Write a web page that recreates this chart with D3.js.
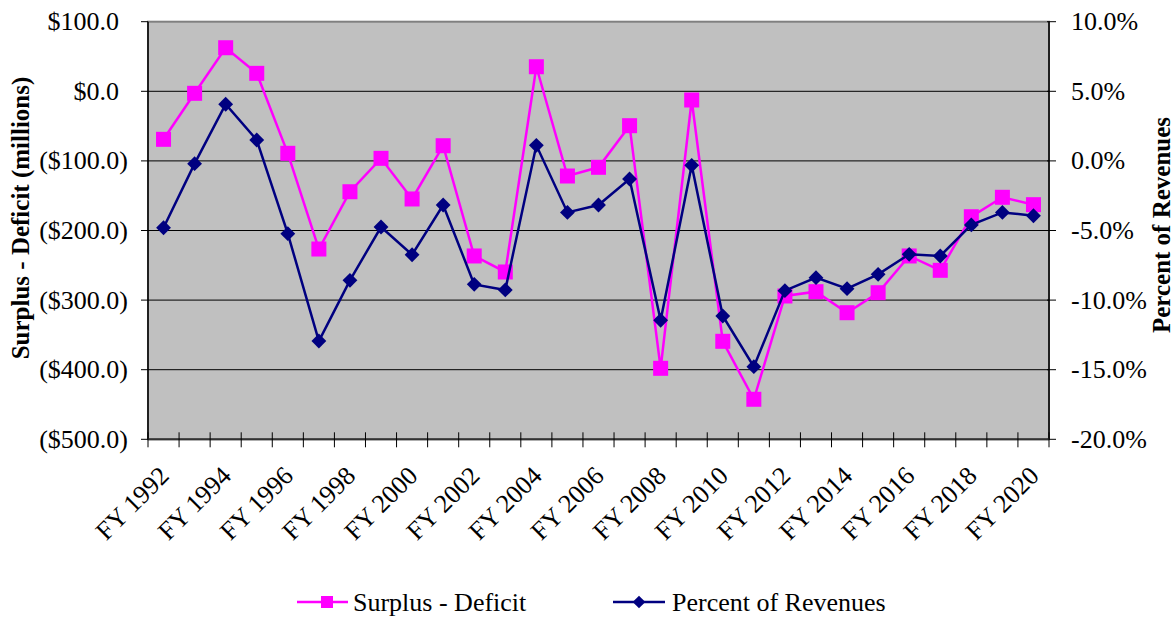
<!DOCTYPE html>
<html>
<head>
<meta charset="utf-8">
<script src="https://cdn.jsdelivr.net/npm/d3@7"></script>
<style>
  body { margin: 0; background: #fff; }
  svg, svg text { font-family: "Liberation Serif", "Times New Roman", "DejaVu Serif", serif; fill: #000; }
</style>
</head>
<body>
<script>
const years = d3.range(1992, 2021).map(y => "FY " + y);
const surplus = [-69.0, -2.9, 62.6, 25.8, -89.1, -226.6, -144.3, -96.3, -154.7, -78.2,
  -236.6, -259.6, 35.3, -121.7, -109.2, -49.4, -398.0, -12.5, -359.2, -442.5,
  -294.1, -287.9, -318.1, -289.4, -236.6, -257.2, -180.2, -152.3, -162.9];
const percent = [-4.8, -0.2, 4.07, 1.5, -5.23, -12.94, -8.58, -4.75, -6.74, -3.17,
  -8.87, -9.27, 1.12, -3.7, -3.17, -1.3, -11.45, -0.32, -11.14, -14.78,
  -9.32, -8.39, -9.18, -8.15, -6.71, -6.83, -4.6, -3.7, -3.94];
const leftTicks = [100, 0, -100, -200, -300, -400, -500];
const rightTicks = [10, 5, 0, -5, -10, -15, -20];

const W = 1175, H = 617;
const L = 148, R = 1049, T = 21.7, B = 439.3;
const serif = "'Liberation Serif', 'Times New Roman', 'DejaVu Serif', serif";

const svg = d3.select("body").append("svg")
  .attr("width", W).attr("height", H)
  .attr("font-family", serif);

const x = d3.scaleBand().domain(years).range([L, R]).padding(0);
const yL = d3.scaleLinear().domain([-500, 100]).range([B, T]);
const yR = d3.scaleLinear().domain([-20, 10]).range([B, T]);
const cx = d => x(d) + x.bandwidth() / 2;

// plot area
svg.append("rect")
  .attr("x", L).attr("y", T).attr("width", R - L).attr("height", B - T)
  .attr("fill", "#c0c0c0").attr("stroke", "#808080").attr("stroke-width", 2);

// gridlines
svg.append("g").selectAll("line")
  .data(leftTicks.slice(1, -1))
  .join("line")
  .attr("x1", L).attr("x2", R)
  .attr("y1", d => yL(d)).attr("y2", d => yL(d))
  .attr("stroke", "#000").attr("stroke-width", 1);

// left axis
const fmtL = d => d < 0 ? "($" + Math.abs(d).toFixed(1) + ")" : "$" + d.toFixed(1);
const gl = svg.append("g");
gl.append("line").attr("x1", L).attr("x2", L).attr("y1", T).attr("y2", B)
  .attr("stroke", "#000").attr("stroke-width", 1.5);
gl.selectAll("line.t").data(leftTicks).join("line").attr("class", "t")
  .attr("x1", L - 7).attr("x2", L).attr("y1", d => yL(d)).attr("y2", d => yL(d))
  .attr("stroke", "#000");
gl.selectAll("text").data(leftTicks).join("text")
  .attr("x", d => d < 0 ? 128 : 119)
  .attr("y", d => yL(d))
  .attr("dy", "0.33em")
  .attr("text-anchor", "end")
  .style("font-family", serif)
  .style("font-size", "26px")
  .text(fmtL);

// right axis
const gr = svg.append("g");
gr.append("line").attr("x1", R).attr("x2", R).attr("y1", T).attr("y2", B)
  .attr("stroke", "#000").attr("stroke-width", 1.5);
gr.selectAll("line.t").data(rightTicks).join("line").attr("class", "t")
  .attr("x1", R - 2).attr("x2", R + 7).attr("y1", d => yR(d)).attr("y2", d => yR(d))
  .attr("stroke", "#000");
gr.selectAll("text").data(rightTicks).join("text")
  .attr("x", 1071)
  .attr("y", d => yR(d))
  .attr("dy", "0.33em")
  .style("font-family", serif)
  .style("font-size", "26px")
  .text(d => d.toFixed(1) + "%");

// bottom axis
const gb = svg.append("g");
gb.append("line").attr("x1", L).attr("x2", R).attr("y1", B).attr("y2", B)
  .attr("stroke", "#333").attr("stroke-width", 2);
gb.selectAll("line.t").data(d3.range(years.length + 1)).join("line").attr("class", "t")
  .attr("x1", i => L + i * x.bandwidth()).attr("x2", i => L + i * x.bandwidth())
  .attr("y1", B - 7).attr("y2", B + 8)
  .attr("stroke", "#000");
gb.selectAll("text").data(years.filter((d, i) => i % 2 === 0)).join("text")
  .attr("transform", d => `translate(${cx(d) + 7},${B + 38}) rotate(-45)`)
  .attr("text-anchor", "end")
  .style("font-family", serif)
  .style("font-size", "26px")
  .text(d => d);

// axis titles
svg.append("text")
  .attr("transform", "translate(29,218) rotate(-90)")
  .attr("text-anchor", "middle")
  .style("font-family", serif)
  .style("font-size", "25px").style("font-weight", "bold")
  .text("Surplus - Deficit (millions)");
svg.append("text")
  .attr("transform", "translate(1170,225) rotate(-90)")
  .attr("text-anchor", "middle")
  .style("font-family", serif)
  .style("font-size", "25px").style("font-weight", "bold")
  .text("Percent of Revenues");

// series
const pink = "#ff00ff", navy = "#000080";
const lineL = d3.line().x((d, i) => cx(years[i])).y(d => yL(d));
const lineR = d3.line().x((d, i) => cx(years[i])).y(d => yR(d));

svg.append("path").datum(surplus).attr("d", lineL)
  .attr("fill", "none").attr("stroke", pink).attr("stroke-width", 2.5);
svg.append("g").selectAll("rect").data(surplus).join("rect")
  .attr("x", (d, i) => cx(years[i]) - 7.5).attr("y", d => yL(d) - 7.5)
  .attr("width", 15).attr("height", 15).attr("fill", pink);

svg.append("path").datum(percent).attr("d", lineR)
  .attr("fill", "none").attr("stroke", navy).attr("stroke-width", 2.5);
const diamond = d3.symbol().type(d3.symbolSquare).size(110);
svg.append("g").selectAll("path").data(percent).join("path")
  .attr("d", diamond)
  .attr("transform", (d, i) => `translate(${cx(years[i])},${yR(d)}) rotate(45)`)
  .attr("fill", navy);

// legend
const lg = svg.append("g");
lg.append("line").attr("x1", 297).attr("x2", 348).attr("y1", 602).attr("y2", 602)
  .attr("stroke", pink).attr("stroke-width", 2.5);
lg.append("rect").attr("x", 321).attr("y", 596).attr("width", 12).attr("height", 12).attr("fill", pink);
lg.append("text").attr("x", 353).attr("y", 611)
  .style("font-family", serif).style("font-size", "26px").text("Surplus - Deficit");
lg.append("line").attr("x1", 613).attr("x2", 665).attr("y1", 602).attr("y2", 602)
  .attr("stroke", navy).attr("stroke-width", 2.5);
lg.append("path").attr("d", d3.symbol().type(d3.symbolSquare).size(80))
  .attr("transform", "translate(639,602) rotate(45)").attr("fill", navy);
lg.append("text").attr("x", 672).attr("y", 611)
  .style("font-family", serif).style("font-size", "26px").text("Percent of Revenues");
</script>
</body>
</html>
